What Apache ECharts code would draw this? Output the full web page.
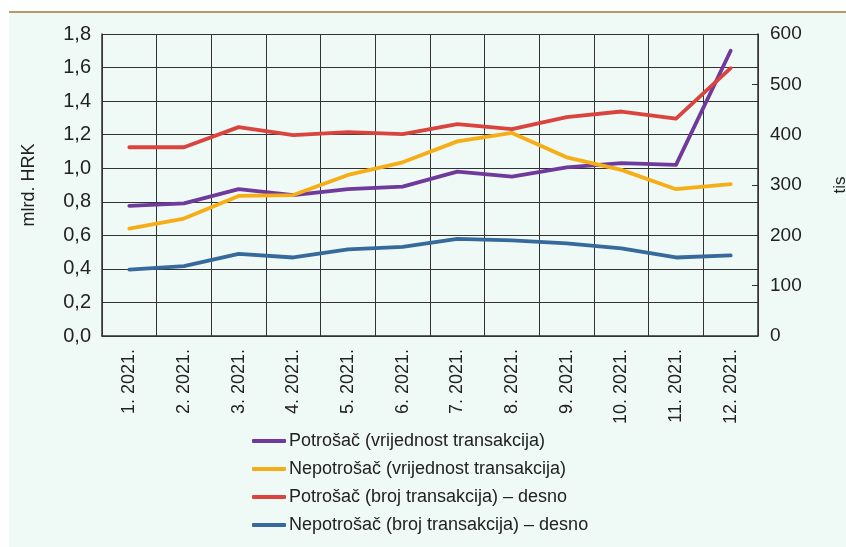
<!DOCTYPE html>
<html>
<head>
<meta charset="utf-8">
<script src="https://cdn.jsdelivr.net/npm/echarts@6/dist/echarts.min.js"></script>
<style>
  html, body { margin: 0; padding: 0; background: #fff; }
  #main { width: 846px; height: 547px; }
</style>
</head>
<body>
<div id="main"></div>
<script>
// mjeseci
var months = ['1. 2021.', '2. 2021.', '3. 2021.', '4. 2021.', '5. 2021.', '6. 2021.',
  '7. 2021.', '8. 2021.', '9. 2021.', '10. 2021.', '11. 2021.', '12. 2021.'];
// vrijednost transakcija, mlrd. HRK (lijevo)
var potrosacVrij = [0.775, 0.79, 0.875, 0.84, 0.875, 0.89, 0.98, 0.95, 1.005, 1.03, 1.02, 1.70];
var nepotrosacVrij = [0.64, 0.70, 0.835, 0.84, 0.96, 1.035, 1.16, 1.21, 1.065, 0.99, 0.875, 0.905];
// broj transakcija, tis. (desno)
var potrosacBroj = [375, 375, 415, 399, 405, 401, 421, 411, 435, 446, 432, 532];
var nepotrosacBroj = [132, 139, 163, 156, 172, 177, 193, 190, 184, 174, 156, 160];

var fontFam = '"Liberation Sans", Arial, sans-serif';
var txt = '#222';
var gridCol = '#333';

var myChart = echarts.init(document.getElementById('main'));

function lineSeries(name, data, color, axis) {
  return {
    name: name,
    type: 'line',
    yAxisIndex: axis,
    data: data,
    symbol: 'none',
    lineStyle: { color: color, width: 3.8, cap: 'round', join: 'round' },
    itemStyle: { color: color },
    z: 3
  };
}

myChart.setOption({
  animation: false,
  textStyle: { fontFamily: fontFam },
  graphic: [
    { type: 'rect', shape: { x: 9, y: 12, width: 846, height: 547 }, style: { fill: '#eff9f5' }, z: -10 },
    { type: 'rect', shape: { x: 9, y: 11, width: 846, height: 2 }, style: { fill: '#b89a66' }, z: -9 }
  ],
  grid: { left: 102, right: 88, top: 34, bottom: 211, containLabel: false, outerBoundsMode: 'none' },
  legend: {
    orient: 'vertical',
    left: 247,
    top: 427,
    itemWidth: 34,
    itemHeight: 4,
    itemGap: 10,
    icon: 'roundRect',
    textStyle: { fontSize: 18, color: txt, fontFamily: fontFam, padding: [0, 0, 0, -2] },
    data: ['Potrošač (vrijednost transakcija)', 'Nepotrošač (vrijednost transakcija)',
      'Potrošač (broj transakcija) – desno', 'Nepotrošač (broj transakcija) – desno']
  },
  xAxis: {
    type: 'category',
    data: months,
    boundaryGap: true,
    axisLine: { show: true, lineStyle: { color: gridCol, width: 1.5 } },
    axisTick: { show: false },
    splitLine: { show: true, interval: 0, lineStyle: { color: gridCol, width: 1 } },
    axisLabel: { interval: 0, rotate: 90, fontSize: 18, color: txt, margin: 13, fontFamily: fontFam }
  },
  yAxis: [
    {
      type: 'value',
      min: 0,
      max: 1.8,
      interval: 0.2,
      position: 'left',
      name: 'mlrd. HRK',
      nameLocation: 'middle',
      nameRotate: 90,
      nameGap: 64,
      nameTextStyle: { fontSize: 18, color: txt, fontFamily: fontFam },
      axisLine: { show: true, lineStyle: { color: gridCol, width: 1.5 } },
      axisTick: { show: false },
      splitLine: { show: true, lineStyle: { color: gridCol, width: 1 } },
      axisLabel: {
        fontSize: 20, color: txt, margin: 11, fontFamily: fontFam,
        formatter: function (v) { return v.toFixed(1).replace('.', ','); }
      }
    },
    {
      type: 'value',
      min: 0,
      max: 600,
      interval: 100,
      position: 'right',
      name: 'tis',
      nameLocation: 'middle',
      nameRotate: 90,
      nameGap: 74,
      nameTextStyle: { fontSize: 17, color: txt, fontFamily: fontFam },
      axisLine: { show: true, lineStyle: { color: gridCol, width: 1.5 } },
      axisTick: { show: true, inside: true, length: 6, lineStyle: { color: gridCol } },
      splitLine: { show: false },
      axisLabel: { fontSize: 19, color: txt, margin: 12, fontFamily: fontFam }
    }
  ],
  series: [
    lineSeries('Potrošač (vrijednost transakcija)', potrosacVrij, '#6f3a9c', 0),
    lineSeries('Nepotrošač (vrijednost transakcija)', nepotrosacVrij, '#f6ae17', 0),
    lineSeries('Potrošač (broj transakcija) – desno', potrosacBroj, '#d9443f', 1),
    lineSeries('Nepotrošač (broj transakcija) – desno', nepotrosacBroj, '#36699c', 1)
  ]
});
</script>
</body>
</html>
